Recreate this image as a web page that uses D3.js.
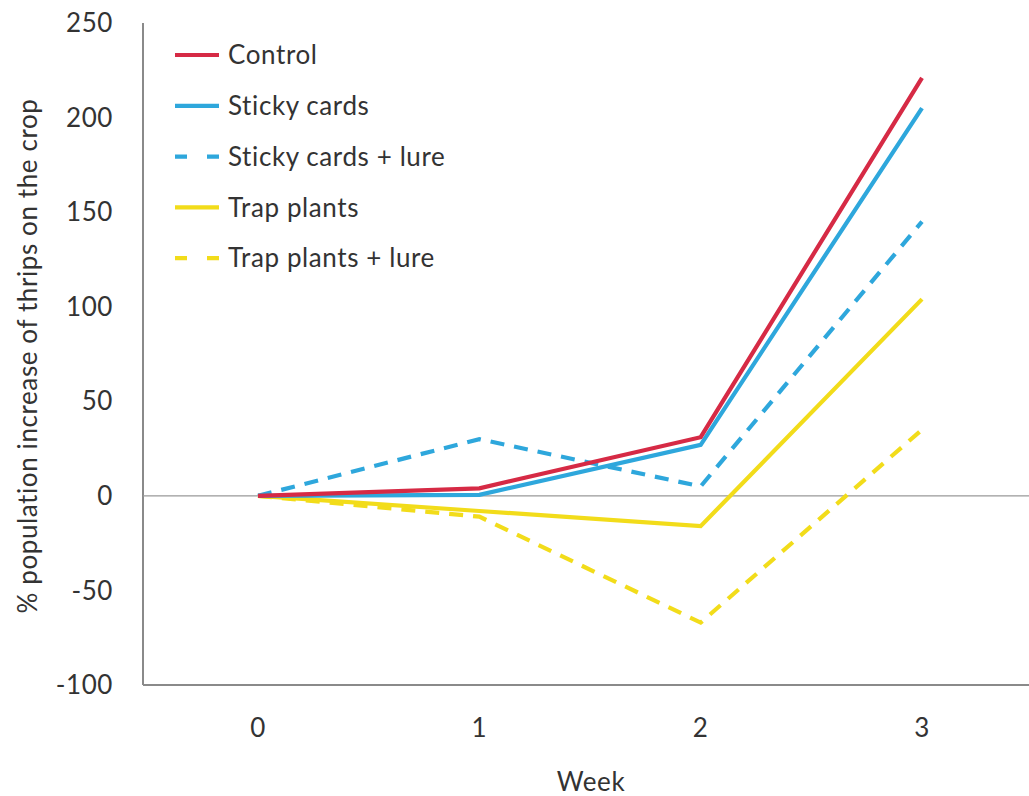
<!DOCTYPE html>
<html><head><meta charset="utf-8">
<script src="https://cdn.jsdelivr.net/npm/d3@7"></script>
<style>body{margin:0;background:#fff;} text{font-family:Lato,"Open Sans",sans-serif;fill:#333;letter-spacing:0.6px;}</style>
</head><body>
<svg id="c" width="1029" height="796"></svg>
<script>
const weeks = [0, 1, 2, 3];
const seriesNames = ["Control", "Sticky cards", "Sticky cards + lure", "Trap plants", "Trap plants + lure"];
const control = [0, 4, 31, 221];
const stickyCards = [0, 0.5, 27, 205];
const stickyCardsLure = [0, 30, 5, 145];
const trapPlants = [0, -8, -16, 104];
const trapPlantsLure = [0, -11, -67, 35];
const yTicks = [-100, -50, 0, 50, 100, 150, 200, 250];

const colors = ["#d62a45", "#2ea7dc", "#2ea7dc", "#f2dc1a", "#f2dc1a"];
const dashed = [false, false, true, false, true];
const values = [control, stickyCards, stickyCardsLure, trapPlants, trapPlantsLure];

const svg = d3.select("#c");
const x = d3.scaleLinear().domain([0, 3]).range([258, 922]);
const y = d3.scaleLinear().domain([-100, 250]).range([685, 23]);
const left = 143, right = 1029;
const fs = "26px";

svg.append("line").attr("x1", left).attr("x2", left).attr("y1", y(250)).attr("y2", y(-100))
  .attr("stroke", "#8a8a8a").attr("stroke-width", 2);
svg.append("line").attr("x1", left).attr("x2", right).attr("y1", y(-100)).attr("y2", y(-100))
  .attr("stroke", "#8a8a8a").attr("stroke-width", 2);
svg.append("line").attr("x1", left).attr("x2", right).attr("y1", y(0)).attr("y2", y(0))
  .attr("stroke", "#999").attr("stroke-width", 1.2);

svg.selectAll(".yt").data(yTicks).enter().append("text")
  .attr("x", 113).attr("y", d => y(d)).attr("dy", "0.35em")
  .attr("text-anchor", "end").style("font-size", fs).text(d => d);

svg.selectAll(".xt").data(weeks).enter().append("text")
  .attr("x", d => x(d)).attr("y", 728).attr("dy", "0.35em")
  .attr("text-anchor", "middle").style("font-size", fs).text(d => d);

svg.append("text").attr("x", 591).attr("y", 782).attr("dy", "0.35em")
  .attr("text-anchor", "middle").style("font-size", fs).text("Week");

svg.append("text").attr("transform", "translate(28,356) rotate(-90)")
  .attr("text-anchor", "middle").attr("dy", "0.35em").style("font-size", fs)
  .text("% population increase of thrips on the crop");

const line = d3.line().x((d, i) => x(weeks[i])).y(d => y(d));
const order = [4, 3, 2, 1, 0];
order.forEach(i => {
  svg.append("path").datum(values[i]).attr("d", line)
    .attr("fill", "none").attr("stroke", colors[i]).attr("stroke-width", 4.2)
    .attr("stroke-dasharray", dashed[i] ? "14,10" : null);
});

const lg = svg.append("g");
seriesNames.forEach((n, i) => {
  const yy = 55 + i * 50.8;
  lg.append("line").attr("x1", 175).attr("x2", 219).attr("y1", yy).attr("y2", yy)
    .attr("stroke", colors[i]).attr("stroke-width", 4.2)
    .attr("stroke-dasharray", dashed[i] ? "12,20" : null);
  lg.append("text").attr("x", 228).attr("y", yy).attr("dy", "0.35em")
    .style("font-size", fs).text(n);
});
</script>
</body></html>
